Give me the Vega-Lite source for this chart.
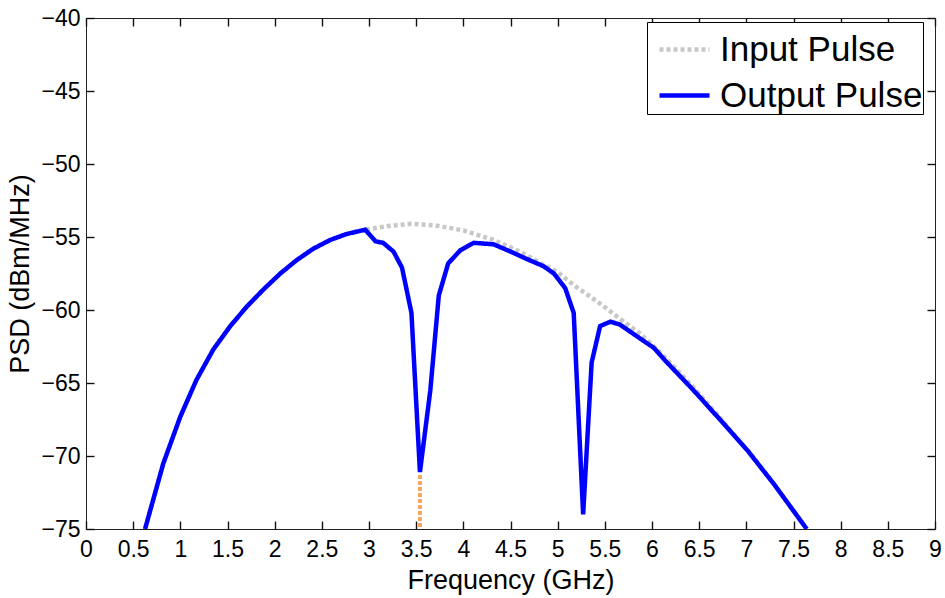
{
  "$schema": "https://vega.github.io/schema/vega-lite/v6.json",
  "width": 849,
  "height": 511,
  "autosize": "none",
  "padding": {"left": 86, "top": 18, "right": 10, "bottom": 69},
  "background": "white",
  "config": {
    "view": {"stroke": "#222", "strokeWidth": 1},
    "font": "Liberation Sans",
    "axis": {"grid": false, "labelFont": "Liberation Sans", "titleFont": "Liberation Sans", "labelFontSize": 23, "titleFontSize": 27, "titleFontWeight": "normal", "labelColor": "black", "titleColor": "black", "domain": false, "tickColor": "#111", "tickWidth": 1.4, "tickSize": 8, "labelFlush": false, "labelOverlap": false, "format": "~g"}
  },
  "datasets": {
    "pulse": [
      {"f": 0.626, "psd": -75, "s": "Input Pulse"},
      {"f": 0.82, "psd": -70.5, "s": "Input Pulse"},
      {"f": 1.0, "psd": -67.3, "s": "Input Pulse"},
      {"f": 1.17, "psd": -64.8, "s": "Input Pulse"},
      {"f": 1.35, "psd": -62.7, "s": "Input Pulse"},
      {"f": 1.53, "psd": -61.1, "s": "Input Pulse"},
      {"f": 1.7, "psd": -59.8, "s": "Input Pulse"},
      {"f": 1.88, "psd": -58.6, "s": "Input Pulse"},
      {"f": 2.06, "psd": -57.5, "s": "Input Pulse"},
      {"f": 2.23, "psd": -56.6, "s": "Input Pulse"},
      {"f": 2.41, "psd": -55.8, "s": "Input Pulse"},
      {"f": 2.59, "psd": -55.2, "s": "Input Pulse"},
      {"f": 2.76, "psd": -54.8, "s": "Input Pulse"},
      {"f": 2.96, "psd": -54.5, "s": "Input Pulse"},
      {"f": 3.2, "psd": -54.25, "s": "Input Pulse"},
      {"f": 3.44, "psd": -54.1, "s": "Input Pulse"},
      {"f": 3.7, "psd": -54.2, "s": "Input Pulse"},
      {"f": 4.0, "psd": -54.55, "s": "Input Pulse"},
      {"f": 4.32, "psd": -55.2, "s": "Input Pulse"},
      {"f": 4.6, "psd": -56.0, "s": "Input Pulse"},
      {"f": 4.85, "psd": -56.9, "s": "Input Pulse"},
      {"f": 5.0, "psd": -57.4, "s": "Input Pulse"},
      {"f": 5.17, "psd": -58.3, "s": "Input Pulse"},
      {"f": 5.35, "psd": -59.1, "s": "Input Pulse"},
      {"f": 5.52, "psd": -59.9, "s": "Input Pulse"},
      {"f": 5.7, "psd": -60.8, "s": "Input Pulse"},
      {"f": 5.87, "psd": -61.6, "s": "Input Pulse"},
      {"f": 6.02, "psd": -62.5, "s": "Input Pulse"},
      {"f": 6.16, "psd": -63.4, "s": "Input Pulse"},
      {"f": 6.44, "psd": -65.3, "s": "Input Pulse"},
      {"f": 6.72, "psd": -67.4, "s": "Input Pulse"},
      {"f": 7.01, "psd": -69.6, "s": "Input Pulse"},
      {"f": 7.29, "psd": -71.9, "s": "Input Pulse"},
      {"f": 7.64, "psd": -75, "s": "Input Pulse"},
      {"f": 0.626, "psd": -75, "s": "Output Pulse"},
      {"f": 0.82, "psd": -70.5, "s": "Output Pulse"},
      {"f": 1.0, "psd": -67.3, "s": "Output Pulse"},
      {"f": 1.17, "psd": -64.8, "s": "Output Pulse"},
      {"f": 1.35, "psd": -62.7, "s": "Output Pulse"},
      {"f": 1.53, "psd": -61.1, "s": "Output Pulse"},
      {"f": 1.7, "psd": -59.8, "s": "Output Pulse"},
      {"f": 1.88, "psd": -58.6, "s": "Output Pulse"},
      {"f": 2.06, "psd": -57.5, "s": "Output Pulse"},
      {"f": 2.23, "psd": -56.6, "s": "Output Pulse"},
      {"f": 2.41, "psd": -55.8, "s": "Output Pulse"},
      {"f": 2.59, "psd": -55.2, "s": "Output Pulse"},
      {"f": 2.76, "psd": -54.8, "s": "Output Pulse"},
      {"f": 2.96, "psd": -54.5, "s": "Output Pulse"},
      {"f": 3.07, "psd": -55.3, "s": "Output Pulse"},
      {"f": 3.15, "psd": -55.4, "s": "Output Pulse"},
      {"f": 3.26, "psd": -56.0, "s": "Output Pulse"},
      {"f": 3.35, "psd": -57.1, "s": "Output Pulse"},
      {"f": 3.45, "psd": -60.2, "s": "Output Pulse"},
      {"f": 3.54, "psd": -71.1, "s": "Output Pulse"},
      {"f": 3.65, "psd": -65.5, "s": "Output Pulse"},
      {"f": 3.74, "psd": -59.0, "s": "Output Pulse"},
      {"f": 3.84, "psd": -56.8, "s": "Output Pulse"},
      {"f": 3.97, "psd": -55.9, "s": "Output Pulse"},
      {"f": 4.11, "psd": -55.4, "s": "Output Pulse"},
      {"f": 4.32, "psd": -55.5, "s": "Output Pulse"},
      {"f": 4.5, "psd": -56.0, "s": "Output Pulse"},
      {"f": 4.67, "psd": -56.5, "s": "Output Pulse"},
      {"f": 4.85, "psd": -57.0, "s": "Output Pulse"},
      {"f": 4.96, "psd": -57.5, "s": "Output Pulse"},
      {"f": 5.08, "psd": -58.5, "s": "Output Pulse"},
      {"f": 5.17, "psd": -60.2, "s": "Output Pulse"},
      {"f": 5.27, "psd": -74.0, "s": "Output Pulse"},
      {"f": 5.36, "psd": -63.6, "s": "Output Pulse"},
      {"f": 5.45, "psd": -61.1, "s": "Output Pulse"},
      {"f": 5.56, "psd": -60.8, "s": "Output Pulse"},
      {"f": 5.66, "psd": -61.0, "s": "Output Pulse"},
      {"f": 5.84, "psd": -61.8, "s": "Output Pulse"},
      {"f": 6.02, "psd": -62.6, "s": "Output Pulse"},
      {"f": 6.16, "psd": -63.6, "s": "Output Pulse"},
      {"f": 6.44, "psd": -65.5, "s": "Output Pulse"},
      {"f": 6.72, "psd": -67.5, "s": "Output Pulse"},
      {"f": 7.01, "psd": -69.6, "s": "Output Pulse"},
      {"f": 7.29, "psd": -71.9, "s": "Output Pulse"},
      {"f": 7.64, "psd": -75, "s": "Output Pulse"}
    ],
    "marker": [
      {"f": 3.54, "psd": -71.3},
      {"f": 3.54, "psd": -75}
    ]
  },
  "layer": [
    {
      "data": {"name": "marker"},
      "mark": {"type": "line", "color": "#F7A85C", "strokeWidth": 4, "strokeDash": [4, 2], "clip": true},
      "encoding": {
        "x": {"field": "f", "type": "quantitative", "scale": {"domain": [0, 9], "nice": false, "zero": false}, "axis": {"orient": "bottom", "ticks": false, "values": [0,0.5,1,1.5,2,2.5,3,3.5,4,4.5,5,5.5,6,6.5,7,7.5,8,8.5,9], "title": "Frequency (GHz)", "labelPadding": 9, "titlePadding": 6}},
        "y": {"field": "psd", "type": "quantitative", "scale": {"domain": [-75, -40], "nice": false, "zero": false}, "axis": {"orient": "left", "ticks": false, "values": [-75,-70,-65,-60,-55,-50,-45,-40], "title": "PSD (dBm/MHz)", "labelPadding": 6, "titlePadding": 6}}
      }
    },
    {
      "data": {"name": "pulse"},
      "mark": {"type": "line", "clip": true, "strokeWidth": 4.5},
      "encoding": {
        "x": {"field": "f", "type": "quantitative", "axis": {"orient": "top", "ticks": true, "tickSize": 8, "offset": -511, "values": [0,0.5,1,1.5,2,2.5,3,3.5,4,4.5,5,5.5,6,6.5,7,7.5,8,8.5,9], "labels": false, "title": null}},
        "y": {"field": "psd", "type": "quantitative", "axis": {"orient": "right", "ticks": true, "tickSize": 8, "offset": -849, "values": [-75,-70,-65,-60,-55,-50,-45,-40], "labels": false, "title": null}},
        "color": {"field": "s", "type": "nominal", "scale": {"domain": ["Input Pulse", "Output Pulse"], "range": ["#C8C8C8", "#0000FF"]},
          "legend": {"title": null, "orient": "none", "legendX": 561, "legendY": 4, "symbolType": "stroke", "symbolSize": 2500, "symbolStrokeWidth": 4.5, "symbolOffset": 10, "labelFontSize": 35, "labelFont": "Liberation Sans", "labelColor": "black", "labelOffset": 8, "rowPadding": -6, "padding": 0, "strokeColor": "black", "fillColor": "white", "labelLimit": 400}},
        "strokeDash": {"field": "s", "type": "nominal", "scale": {"domain": ["Input Pulse", "Output Pulse"], "range": [[4, 3], [1, 0]]}, "legend": null},
        "order": {"field": "s", "type": "nominal"}
      }
    },
    {
      "data": {"name": "marker"},
      "mark": {"type": "line", "opacity": 0, "clip": true},
      "encoding": {
        "x": {"field": "f", "type": "quantitative", "axis": {"orient": "top", "ticks": true, "tickSize": -8, "values": [0,0.5,1,1.5,2,2.5,3,3.5,4,4.5,5,5.5,6,6.5,7,7.5,8,8.5,9], "labels": false, "title": null}},
        "y": {"field": "psd", "type": "quantitative", "axis": {"orient": "right", "ticks": true, "tickSize": -8, "values": [-75,-70,-65,-60,-55,-50,-45,-40], "labels": false, "title": null}}
      }
    }
  ],
  "resolve": {"axis": {"x": "independent", "y": "independent"}}
}
